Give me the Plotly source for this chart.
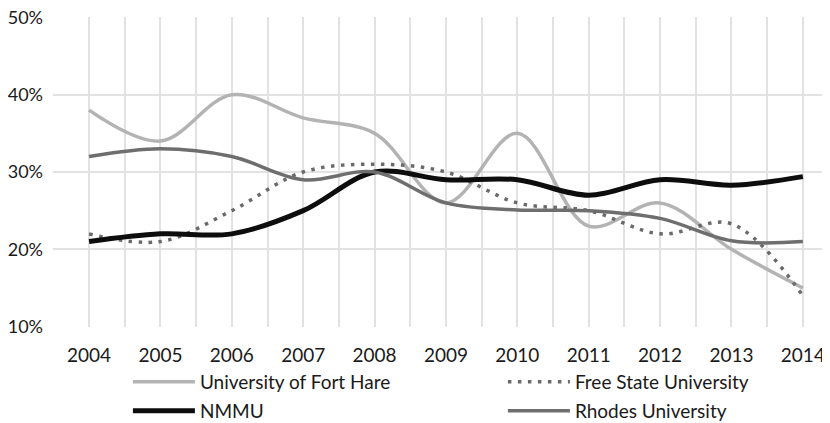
import plotly.graph_objects as go

years = [2004, 2005, 2006, 2007, 2008, 2009, 2010, 2011, 2012, 2013, 2014]
fort_hare = [0.38, 0.34, 0.40, 0.37, 0.35, 0.26, 0.35, 0.23, 0.26, 0.20, 0.15]
free_state = [0.22, 0.21, 0.25, 0.30, 0.31, 0.30, 0.26, 0.25, 0.22, 0.233, 0.14]
nmmu = [0.21, 0.22, 0.22, 0.25, 0.30, 0.29, 0.29, 0.27, 0.29, 0.283, 0.294]
rhodes = [0.32, 0.33, 0.32, 0.29, 0.30, 0.26, 0.251, 0.25, 0.24, 0.211, 0.21]

series_names = ["University of Fort Hare", "Free State University", "NMMU", "Rhodes University"]

FONT = "Lato"
TXT = "#1a1a1a"
GRID = "#e2e2e2"

fig = go.Figure()
fig.add_trace(go.Scatter(x=years, y=fort_hare, name=series_names[0], mode="lines", legend="legend",
                         line=dict(color="#b3b3b3", width=3.5, shape="spline", smoothing=1)))
fig.add_trace(go.Scatter(x=years, y=free_state, name=series_names[1], mode="lines", legend="legend",
                         line=dict(color="#6a6a6a", width=3.5, shape="spline", smoothing=1,
                                   dash="3.5px,6.5px")))
fig.add_trace(go.Scatter(x=years, y=nmmu, name=series_names[2], mode="lines", legend="legend2",
                         line=dict(color="#0d0d0d", width=5, shape="spline", smoothing=1)))
fig.add_trace(go.Scatter(x=years, y=rhodes, name=series_names[3], mode="lines", legend="legend2",
                         line=dict(color="#6e6e6e", width=3.5, shape="spline", smoothing=1)))

leg_common = dict(orientation="h", x=0.0964, xanchor="left", yanchor="middle",
                  entrywidth=298, entrywidthmode="pixels", itemwidth=62,
                  font=dict(family=FONT, size=19, color=TXT),
                  bgcolor="rgba(0,0,0,0)", borderwidth=0)

# page body has an 8px default margin, so the figure is 8px smaller than the window
fig.update_layout(
    width=822, height=415,
    margin=dict(l=45, r=0, t=9, b=96, autoexpand=False),
    paper_bgcolor="white", plot_bgcolor="white",
    font=dict(family=FONT, size=19, color=TXT),
    showlegend=True,
    legend=dict(y=-0.1774, **leg_common),
    legend2=dict(y=-0.271, **leg_common),
    xaxis=dict(range=[2003.495, 2014.38], tickmode="linear", tick0=2004, dtick=1,
               tickformat="d", showgrid=True, gridcolor=GRID, gridwidth=1.5,
               minor=dict(dtick=0.5, tick0=2003.5, showgrid=True, gridcolor=GRID, gridwidth=1.5),
               zeroline=False, showline=False, ticks="", ticklabelstandoff=15,
               ticklabeloverflow="allow", fixedrange=True),
    yaxis=dict(range=[0.0995, 0.5005], tickmode="linear", tick0=0.1, dtick=0.1,
               tickformat=".0%", showgrid=True, gridcolor=GRID, gridwidth=1.5,
               zeroline=False, showline=False, ticks="", ticklabelstandoff=9,
               tickfont=dict(family=FONT, size=18, color=TXT),
               ticklabeloverflow="allow", fixedrange=True),
)

fig.write_html("out.html")
